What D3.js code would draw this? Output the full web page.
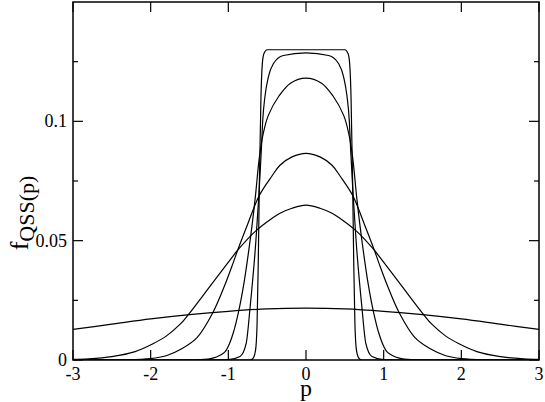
<!DOCTYPE html>
<html><head><meta charset="utf-8">
<script src="https://cdn.jsdelivr.net/npm/d3@7/dist/d3.min.js"></script>
<style>body{margin:0;background:#fff}svg{display:block}text{font-family:"Liberation Serif","Times New Roman",serif;fill:#000}</style>
</head><body>
<script>
// x-ticks and y-ticks
const xTicks = [-3, -2, -1, 0, 1, 2, 3];
const xTickLabels = ["-3", "-2", "-1", "0", "1", "2", "3"];
const yMajor = [0, 0.05, 0.1];
const yMajorLabels = ["0", "0.05", "0.1"];
const yMinor = [0.025, 0.075, 0.125];

// curve 1: nearly waterbag
const p1 = [-3, -0.72, -0.68, -0.65, -0.63, -0.615, -0.6, -0.58, -0.56, -0.54, -0.5, 0, 0.5, 0.54, 0.56, 0.58, 0.6, 0.615, 0.63, 0.65, 0.68, 0.72, 3];
const f1 = [0, 0, 0.0008, 0.004, 0.015, 0.04, 0.075, 0.110, 0.125, 0.1285, 0.130, 0.130, 0.130, 0.1285, 0.125, 0.110, 0.075, 0.04, 0.015, 0.004, 0.0008, 0, 0];
// curve 2
const p2 = [-3, -1.2, -1.0, -0.85, -0.77, -0.72, -0.645, -0.605, -0.575, -0.558, -0.528, -0.485, -0.421, -0.292, 0, 0.292, 0.421, 0.485, 0.528, 0.558, 0.575, 0.605, 0.645, 0.72, 0.77, 0.85, 1.0, 1.2, 3];
const f2 = [0, 0, 0.0002, 0.0015, 0.007, 0.022, 0.050, 0.070, 0.088, 0.100, 0.1105, 0.1185, 0.1241, 0.1276, 0.1287, 0.1276, 0.1241, 0.1185, 0.1105, 0.100, 0.088, 0.070, 0.050, 0.022, 0.007, 0.0015, 0.0002, 0, 0];
// curve 3
const p3 = [-3, -1.6, -1.4, -1.2, -1.05, -1.0, -0.94, -0.87, -0.8, -0.72, -0.657, -0.6, -0.55, -0.485, -0.35, -0.2, 0, 0.2, 0.35, 0.485, 0.55, 0.6, 0.657, 0.72, 0.8, 0.87, 0.94, 1.0, 1.05, 1.2, 1.4, 1.6, 3];
const f3 = [0, 0, 0.0001, 0.0008, 0.0032, 0.0058, 0.011, 0.020, 0.032, 0.050, 0.0669, 0.085, 0.095, 0.1025, 0.1105, 0.1160, 0.1181, 0.1160, 0.1105, 0.1025, 0.095, 0.085, 0.0669, 0.050, 0.032, 0.020, 0.011, 0.0058, 0.0032, 0.0008, 0.0001, 0, 0];
// curve 4
const p4 = [-3, -2.4, -2.0, -1.8, -1.6, -1.4, -1.2, -1.05, -0.94, -0.88, -0.75, -0.6, -0.44, -0.335, -0.18, 0, 0.18, 0.335, 0.44, 0.6, 0.75, 0.88, 0.94, 1.05, 1.2, 1.4, 1.6, 1.8, 2.0, 2.4, 3];
const f4 = [0, 0.0001, 0.0006, 0.0018, 0.0047, 0.0095, 0.0198, 0.031, 0.0405, 0.046, 0.057, 0.069, 0.0770, 0.0816, 0.0851, 0.0866, 0.0851, 0.0816, 0.0770, 0.069, 0.057, 0.046, 0.0405, 0.031, 0.0198, 0.0095, 0.0047, 0.0018, 0.0006, 0.0001, 0];
// curve 5
const p5 = [-3, -2.8, -2.5, -2.2, -1.97, -1.8, -1.62, -1.52, -1.21, -0.94, -0.88, -0.65, -0.44, -0.335, -0.18, 0, 0.18, 0.335, 0.44, 0.65, 0.88, 0.94, 1.21, 1.52, 1.62, 1.8, 1.97, 2.2, 2.5, 2.8, 3];
const f5 = [0.0003, 0.0005, 0.0014, 0.0035, 0.0068, 0.010, 0.0150, 0.0188, 0.032, 0.0435, 0.046, 0.0540, 0.0593, 0.0615, 0.0636, 0.0649, 0.0636, 0.0615, 0.0593, 0.0540, 0.046, 0.0435, 0.032, 0.0188, 0.0150, 0.010, 0.0068, 0.0035, 0.0014, 0.0005, 0.0003];
// curve 6: broad
const p6 = [-3, -2.5, -2, -1.5, -1, -0.5, 0, 0.5, 1, 1.5, 2, 2.5, 3];
const f6 = [0.0128, 0.0150, 0.0172, 0.0190, 0.0204, 0.0214, 0.0217, 0.0214, 0.0204, 0.0190, 0.0172, 0.0150, 0.0128];

const series = [[p1, f1, "m"], [p2, f2, "m"], [p3, f3, "c"], [p4, f4, "c"], [p5, f5, "c"], [p6, f6, "c"]];

const W = 545, H = 402;
const L = 73, R = 539, T = 2, B = 360;
const x = d3.scaleLinear().domain([-3, 3]).range([L, R]);
const y = d3.scaleLinear().domain([0, 0.15]).range([B, T]);

const svg = d3.select("body").append("svg").attr("width", W).attr("height", H);

svg.append("clipPath").attr("id", "c").append("rect")
  .attr("x", L).attr("y", T).attr("width", R - L).attr("height", B - T);

const lineM = d3.line().x(d => x(d[0])).y(d => y(d[1])).curve(d3.curveMonotoneX);
const lineC = d3.line().x(d => x(d[0])).y(d => y(Math.max(0, d[1]))).curve(d3.curveCatmullRom.alpha(0.5));
const g = svg.append("g").attr("clip-path", "url(#c)");
series.forEach(([ps, fs, k]) => {
  g.append("path").datum(ps.map((p, i) => [p, fs[i]]))
    .attr("d", k === "m" ? lineM : lineC).attr("fill", "none").attr("stroke", "#000").attr("stroke-width", 1.2);
});

// frame
svg.append("rect").attr("x", L).attr("y", T).attr("width", R - L).attr("height", B - T)
  .attr("fill", "none").attr("stroke", "#000").attr("stroke-width", 1.5);

// ticks
const tk = svg.append("g").attr("stroke", "#000").attr("stroke-width", 1.2);
xTicks.forEach(v => {
  tk.append("line").attr("x1", x(v)).attr("x2", x(v)).attr("y1", B).attr("y2", B - 10);
  tk.append("line").attr("x1", x(v)).attr("x2", x(v)).attr("y1", T).attr("y2", T + 10);
});
yMajor.forEach(v => {
  tk.append("line").attr("x1", L).attr("x2", L + 10).attr("y1", y(v)).attr("y2", y(v));
  tk.append("line").attr("x1", R).attr("x2", R - 10).attr("y1", y(v)).attr("y2", y(v));
});
yMinor.forEach(v => {
  tk.append("line").attr("x1", L).attr("x2", L + 5).attr("y1", y(v)).attr("y2", y(v));
  tk.append("line").attr("x1", R).attr("x2", R - 5).attr("y1", y(v)).attr("y2", y(v));
});

// tick labels
xTicks.forEach((v, i) => {
  svg.append("text").attr("x", x(v)).attr("y", 380).attr("text-anchor", "middle")
    .attr("font-size", 18).text(xTickLabels[i]);
});
yMajor.forEach((v, i) => {
  svg.append("text").attr("x", 67).attr("y", y(v) + 6).attr("text-anchor", "end")
    .attr("font-size", 18).text(yMajorLabels[i]);
});

// axis titles
svg.append("text").attr("x", x(0)).attr("y", 396).attr("text-anchor", "middle")
  .attr("font-size", 24).text("p");
const yt = svg.append("text").attr("transform", "translate(28,213) rotate(-90)")
  .attr("text-anchor", "middle").attr("font-size", 26);
yt.append("tspan").text("f");
yt.append("tspan").attr("font-size", 22).attr("dy", 6).text("QSS(p)");
</script>
</body></html>
